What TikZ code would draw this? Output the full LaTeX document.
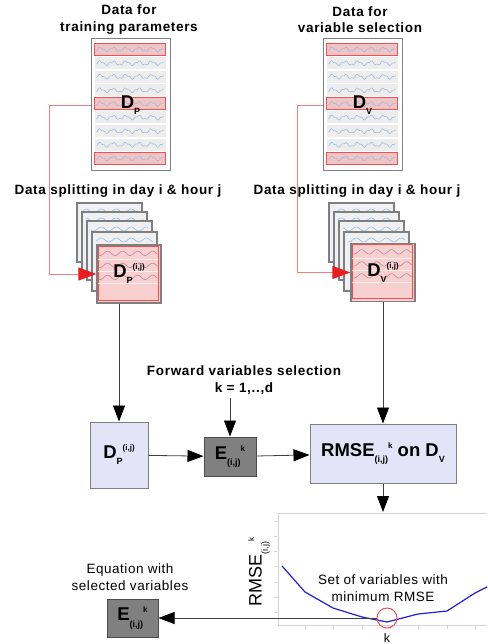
\documentclass[tikz,border=0pt]{standalone}
\usepackage{fontspec}
\setmainfont{Liberation Sans}
\newfontfamily\spacedfont[LetterSpace=5]{Liberation Sans}
\newfontfamily\loosefont[LetterSpace=4]{Liberation Sans}
\usetikzlibrary{arrows.meta,positioning}
\definecolor{lineGray}{HTML}{404040}
\definecolor{boxGray}{HTML}{7F7F7F}
\definecolor{boxLav}{HTML}{E4E4F8}
\definecolor{eqGray}{HTML}{808080}
\definecolor{rowGray}{HTML}{EDEDED}
\definecolor{rowPink}{HTML}{EEC4C4}
\definecolor{hiRed}{HTML}{F05050}
\definecolor{waveBlue}{HTML}{9FBBDB}
\definecolor{sheetFill}{HTML}{EEF0F3}
\definecolor{frontPink}{HTML}{F8D0D0}
\definecolor{linkRed}{HTML}{F08080}
\definecolor{tipRed}{HTML}{E81E1E}
\definecolor{curveBlue}{HTML}{2020D8}
\definecolor{frameGray}{HTML}{D4D4D4}
\newcommand{\lowtxt}[1]{\raisebox{-0.65ex}{\fontsize{9}{9}\selectfont #1}}
\newcommand{\hightxt}[1]{\raisebox{0.8ex}{\fontsize{8}{8}\selectfont #1}}
\tikzset{
  heading/.style={align=center, font=\spacedfont\bfseries\fontsize{13.5}{16.5}\selectfont},
  remark/.style={align=center, font=\loosefont\fontsize{13.5}{16.5}\selectfont},
  biglabel/.style={inner sep=0pt, font=\bfseries\fontsize{18.5}{20}\selectfont},
  plainrow/.style={fill=rowGray},
  hirow/.style={fill=rowPink, draw=hiRed, line width=0.8pt},
  rowwave/.style={draw=waveBlue, line width=0.6pt},
  datatable/.style={rectangle, draw=boxGray, line width=1pt, fill=white,
    minimum width=79pt, minimum height=132pt, inner sep=0pt},
  backsheet/.style={draw=boxGray, line width=1.3pt, fill=sheetFill},
  frontsheet/.style={rectangle, draw=boxGray, line width=1.3pt, fill=frontPink,
    minimum width=64pt, minimum height=58pt, inner sep=0pt},
  lavbox/.style={rectangle, draw=boxGray, line width=1pt, fill=boxLav, inner sep=0pt,
    font=\bfseries\fontsize{18.5}{20}\selectfont},
  eqbox/.style={rectangle, draw=boxGray!60!black, line width=1pt, fill=eqGray, inner sep=0pt,
    font=\bfseries\fontsize{18.5}{20}\selectfont},
  arr/.style={draw=lineGray, line width=0.8pt, -{Triangle[length=16pt,width=12pt,color=black]}},
  redlink/.style={draw=linkRed, line width=0.9pt, -{Triangle[length=18pt,width=13pt,color=tipRed]}}
}
\begin{document}
\begin{tikzpicture}[x=1pt, y=-1pt]
  \useasboundingbox (0,0) rectangle (487,644);

  % the two data sets
  \node[heading] (titleP) at (129,19.5) {Data for\\training parameters};
  \node[heading] (titleV) at (360,19.5) {Data for\\variable selection};
  \node[datatable] (tabP) at (130.5,105) {};
  \node[datatable] (tabV) at (362.5,105) {};
  \foreach \t in {P,V}{
    \begin{scope}[shift={(tab\t.north west)}]
      \foreach \r/\st in {0/hirow,1/plainrow,2/plainrow,3/plainrow,4/hirow,5/plainrow,6/plainrow,7/plainrow,8/hirow}{
        \path[\st] (4,{5+13.6*\r}) rectangle ++(71,12);
        \draw[rowwave] plot[domain=6:73, samples=70] (\x,{11+13.6*\r+1.8*sin(28*\x)+0.8*sin(71*\x)});
      }
    \end{scope}
  }
  \node[biglabel] (labP) at (tabP) {D\lowtxt{P}};
  \node[biglabel] (labV) at (tabV) {D\lowtxt{V}};

  \node[heading] (splitP) at (118,191) {Data splitting in day i \& hour j};
  \node[heading] (splitV) at (357,191) {Data splitting in day i \& hour j};

  % stacks of daily/hourly sheets
  \foreach \bx in {77,329}{
    \foreach \dx/\dy in {0/0,5/9,10/18,15/29}{
      \draw[backsheet] ({\bx+\dx},{203+\dy}) rectangle ++(65,59);
      \draw[rowwave] plot[domain={\bx+\dx+4}:{\bx+\dx+61}, samples=50] (\x,{211+\dy+2*sin(24*\x)});
    }
  }
  \node[frontsheet] (frontP) at (129,274) {};
  \node[frontsheet] (frontV) at (383,272.5) {};
  \foreach \t in {P,V}{
    \begin{scope}[shift={(front\t.north west)}]
      \draw[hiRed, line width=0.8pt] (2,2) rectangle (62,56);
      \foreach \r in {0,1,2}{
        \draw[draw=waveBlue!75!red, line width=0.6pt] plot[domain=3:61, samples=60] (\x,{9+12*\r+2.2*sin(24*\x)});
        \draw[white, line width=0.7pt, opacity=0.7] (2,{15+12*\r}) -- (62,{15+12*\r});
      }
    \end{scope}
  }
  \node[biglabel] (labFP) at (frontP) {D\lowtxt{P}\hightxt{(i,j)}};
  \node[biglabel] (labFV) at (frontV) {D\lowtxt{V}\hightxt{(i,j)}};

  \coordinate (bendP) at (49,105);
  \coordinate (bendV) at (297,105);
  \draw[redlink] (tabP.west) -- (bendP) |- (frontP.west);
  \draw[redlink] (tabV.west) -- (bendV) |- (frontV.west);

  % model building
  \node[lavbox, minimum width=58pt, minimum height=66pt] (dpbox) at (119,455) {D\lowtxt{P}\hightxt{(i,j)}};
  \node[eqbox, minimum width=52pt, minimum height=39pt] (eq) at (230,456.5) {E\lowtxt{(i,j)}\hightxt{k}};
  \node[lavbox, minimum width=146pt, minimum height=59pt] (rmse) at (383,453.5) {RMSE\lowtxt{(i,j)}\hightxt{k} on D\lowtxt{V}};
  \node[heading] (fwd) at (244,380) {Forward variables selection\\k = 1,..,d};

  \draw[arr] (dpbox.north |- frontP.south) -- (dpbox.north);
  \draw[arr] (rmse.north |- frontV.south) -- (rmse.north);
  \draw[arr] (eq.north |- fwd.south) -- (eq.north);
  \draw[arr] (dpbox) -- (eq);
  \draw[arr] (eq) -- (rmse);

  % error curve
  \coordinate (plottop) at (383,512);
  \draw[arr] (rmse.south) -- (plottop);
  \draw[frameGray, line width=0.8pt] (487,513) -- (278,513) -- (278,625) -- (487,625);
  \foreach \ty in {521,536,551,566,582,597,612}
    \draw[frameGray, line width=0.8pt] (274,\ty) -- (277,\ty);
  \foreach \tx in {305,333,362,390,418,447,475}
    \draw[frameGray, line width=0.8pt] (\tx,626) -- (\tx,629);
  \node[rotate=90, font=\fontsize{18}{20}\selectfont] (ylab) at (259,572) {RMSE\lowtxt{(i,j)}\hightxt{k}};
  \draw[curveBlue, line width=1.2pt] plot coordinates {(282,566) (305,592) (333,608) (362,617) (387,622) (418,614) (447,611) (475,593) (487,587)};
  \node[remark] (settxt) at (383,588) {Set of variables with\\minimum RMSE};
  \node[circle, draw=hiRed, line width=1pt, minimum size=20pt, inner sep=0pt] (kmin) at (387,618) {};
  \node[font=\fontsize{12.5}{14}\selectfont] (klab) at (387,638) {k};

  % selected equation
  \node[remark] (eqtxt) at (130,577) {Equation with\\selected variables};
  \node[eqbox, minimum width=51pt, minimum height=38pt] (eout) at (132.5,618) {E\lowtxt{(i,j)}\hightxt{k}};
  \draw[arr] (kmin) -- (eout);
\end{tikzpicture}
\end{document}
